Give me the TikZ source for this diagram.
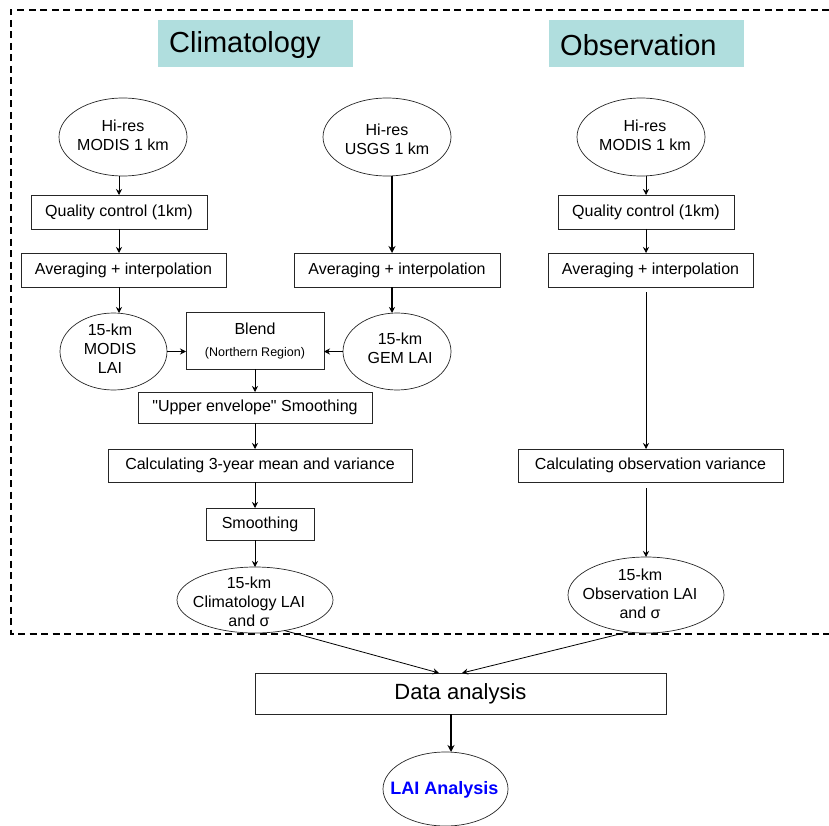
\documentclass[tikz,border=0pt]{standalone}
\usepackage{fontspec}
\setmainfont{Liberation Sans}
\usetikzlibrary{shapes.geometric,arrows.meta,calc}
\definecolor{titlefill}{RGB}{176,222,222}
\definecolor{laiblue}{RGB}{0,0,255}
\begin{document}
\begin{tikzpicture}[x=1pt,y=-1pt,
 box/.style={draw=black!85, line width=0.8pt, inner sep=0pt, outer sep=0pt, font=\fontsize{16}{19}\selectfont, align=center},
 ell/.style={draw=black!85, ellipse, line width=0.7pt, inner sep=0pt, outer sep=0pt},
 txt/.style={inner sep=0pt, font=\fontsize{16}{19}\selectfont, align=center},
 titlebox/.style={fill=titlefill, inner sep=0pt},
 titletxt/.style={inner sep=0pt, font=\fontsize{29}{34}\selectfont, anchor=west},
 arr/.style={-{Stealth[length=6pt,width=6pt]}, line width=0.8pt},
 thickarr/.style={-{Stealth[length=7pt,width=7pt]}, line width=1.8pt},
 border/.style={dash pattern=on 7pt off 4.5pt, line width=1.8pt}
]
\useasboundingbox (0,0) rectangle (829,826);

% dashed frame
\coordinate (fa) at (11,10);
\coordinate (fb) at (11,634);
\coordinate (fc) at (829,10);
\coordinate (fd) at (829,634);
\draw[border] (fc) -- (fa) -- (fb) -- (fd);

% titles
\node[titlebox, minimum width=195pt, minimum height=47pt] (tb1) at (255.5,43.5) {};
\node[titletxt] (t1) at (169,45.5) {Climatology};
\node[titlebox, minimum width=195pt, minimum height=47pt] (tb2) at (646.5,43.5) {};
\node[titletxt] (t2) at (560,45.5) {Observation};

% climatology left column
\node[ell, minimum width=128pt, minimum height=78pt] (m1) at (123,137) {};
\node[txt] (m1t) at (123,135) {Hi-res\\MODIS 1 km};
\node[box, minimum width=176pt, minimum height=34pt] (qc1) at (119,212) {Quality control (1km)};
\node[box, minimum width=205pt, minimum height=34pt] (av1) at (123.5,270) {Averaging + interpolation};
\node[ell, minimum width=107pt, minimum height=77pt] (ml) at (113.5,351.5) {};
\node[txt] (mlt) at (110,349) {15-km\\MODIS\\LAI};

% climatology middle column
\node[ell, minimum width=128pt, minimum height=78pt] (us) at (387,137) {};
\node[txt] (ust) at (387,139) {Hi-res\\USGS 1 km};
\node[box, minimum width=206pt, minimum height=34pt] (av2) at (397,270) {Averaging + interpolation};
\node[ell, minimum width=108pt, minimum height=77pt] (gem) at (397,351.5) {};
\node[txt] (gemt) at (400,348) {15-km\\GEM LAI};
\coordinate (ux) at (392,0);

% blend and below
\node[box, minimum width=138pt, minimum height=57pt] (bl) at (255,340.5) {Blend\\[3pt]{\fontsize{12.5}{15}\selectfont (Northern Region)}};
\node[box, minimum width=234pt, minimum height=31pt] (up) at (255,407.5) {\textquotedbl Upper envelope\textquotedbl{} Smoothing};
\node[box, minimum width=304pt, minimum height=33pt] (c3) at (260,465.5) {Calculating 3-year mean and variance};
\node[box, minimum width=108pt, minimum height=32pt] (sm) at (260,524) {Smoothing};
\node[ell, minimum width=156pt, minimum height=66pt] (clim) at (255,600) {};
\node[txt] (climt) at (249,602) {15-km\\Climatology LAI\\and σ};

% observation column
\node[ell, minimum width=128pt, minimum height=78pt] (om) at (641,137) {};
\node[txt] (omt) at (645,135.5) {Hi-res\\MODIS 1 km};
\node[box, minimum width=176pt, minimum height=34pt] (oqc) at (646,212) {Quality control (1km)};
\node[box, minimum width=205pt, minimum height=34pt] (oav) at (650.5,270) {Averaging + interpolation};
\node[box, minimum width=265pt, minimum height=33pt] (ov) at (650.5,465.5) {Calculating observation variance};
\node[ell, minimum width=156pt, minimum height=76pt] (olai) at (646,595) {};
\node[txt] (olait) at (640,594) {15-km\\Observation LAI\\and σ};

% bottom
\node[box, minimum width=411pt, minimum height=41pt, font=\fontsize{22}{26}\selectfont] (da) at (460.5,693.5) {Data analysis};
\node[ell, minimum width=125pt, minimum height=74pt] (lai) at (445.5,789) {};
\node[txt, font=\bfseries\fontsize{18}{21}\selectfont, text=laiblue] (lait) at (444.5,790) {LAI Analysis};

% arrows: climatology left
\draw[arr] (qc1.north |- m1.south) -- (qc1.north);
\draw[arr] (qc1.south) -- (qc1.south |- av1.north);
\draw[arr] (qc1.south |- av1.south) -- (ml.north -| qc1.south);
\draw[arr] (ml.east) -- (ml.east -| bl.west);
% middle
\draw[thickarr] (us.south -| ux) -- (av2.north -| ux);
\draw[arr, line width=1.1pt] (av2.south -| ux) -- (gem.north -| ux);
\draw[arr] (gem.west) -- (gem.west -| bl.east);
\draw[arr] (bl.south) -- (up.north);
\draw[arr] (up.south) -- (up.south |- c3.north);
\draw[arr] (up.south |- c3.south) -- (up.south |- sm.north);
\draw[arr] (up.south |- sm.south) -- (clim.north);
% observation
\draw[arr] (oqc.north |- om.south) -- (oqc.north);
\draw[arr] (oqc.south) -- (oqc.south |- oav.north);
\draw[arr, shorten <=5pt] (oqc.south |- oav.south) -- (oqc.south |- ov.north);
\draw[arr, shorten <=6pt] (oqc.south |- ov.south) -- (oqc.south |- olai.north);
% to data analysis
\draw[arr] (clim.-46) -- ($(da.north)+(-21.5,0)$);
\draw[arr] (olai.-116) -- ($(da.north)+(1.5,0)$);
\draw[thickarr] ($(da.south)+(-9.5,0)$) -- ($(lai.north)+(5.5,0)$);
\end{tikzpicture}
\end{document}
